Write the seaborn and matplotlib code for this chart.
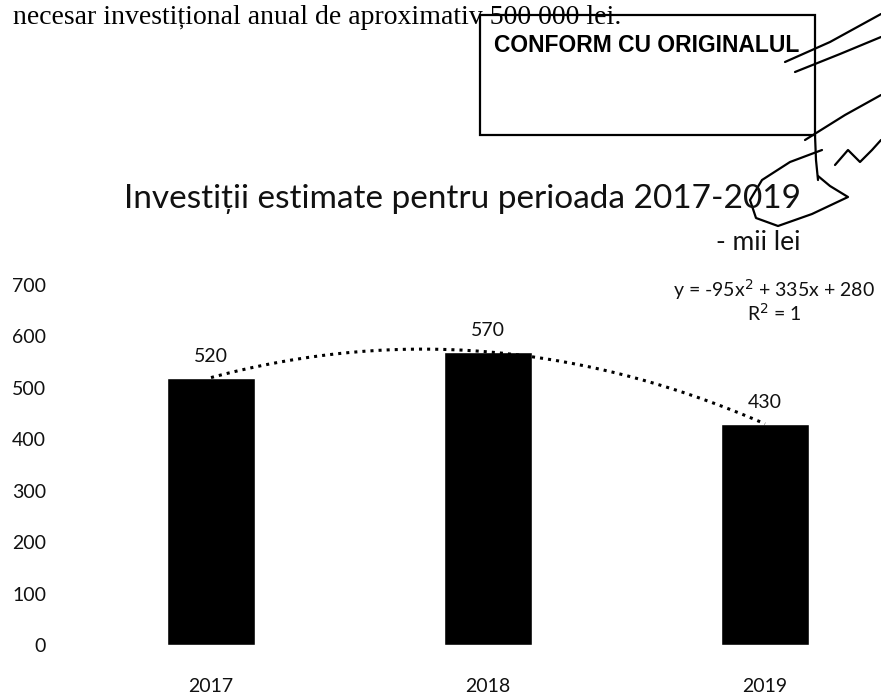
import numpy as np
import pandas as pd
import matplotlib
matplotlib.use('Agg')
import matplotlib.pyplot as plt
import seaborn as sns
from matplotlib.lines import Line2D
from matplotlib.patches import Rectangle

years = ['2017', '2018', '2019']
investitii = [520, 570, 430]
y_ticks = [0, 100, 200, 300, 400, 500, 600, 700]
titlu = 'Investiții estimate pentru perioada 2017-2019'
unitate = '- mii lei'
text_sus = 'necesar investițional anual de aproximativ 500 000 lei.'
stampila = 'CONFORM CU ORIGINALUL'

sns.set_theme(style='white')
plt.rcParams['font.family'] = ['Lato', 'DejaVu Sans']

W, H = 881, 698
fig = plt.figure(figsize=(W / 100, H / 100), dpi=100)
fig.patch.set_facecolor('white')


def fx(px):
    return px / W


def fy(py):
    return 1 - py / H


# axes: y=0 at 645px, y=700 at 285px
ax = fig.add_axes([fx(60), fy(645), fx(881 - 60), (645 - 285) / H])
df = pd.DataFrame({'an': years, 'valoare': investitii})
sns.barplot(data=df, x='an', y='valoare', color='black', width=0.315,
            saturation=1, ax=ax)
ax.set_xlim(-(211 - 60) / 277, 2 + (881 - 765) / 277)
ax.set_ylim(0, 700)
ax.set_yticks(y_ticks)
ax.set_xlabel('')
ax.set_ylabel('')
for s in ax.spines.values():
    s.set_visible(False)
ax.tick_params(axis='y', length=0, pad=10, labelsize=14, labelcolor='#111111')
ax.tick_params(axis='x', length=0, pad=24, labelsize=14, labelcolor='#111111')
ax.bar_label(ax.containers[0], padding=9, fontsize=14, color='#111111')

# polynomial trend line (order 2) through the bars
xi = np.arange(1, len(investitii) + 1)
coef = np.polyfit(xi, investitii, 2)
xs = np.linspace(1, len(investitii), 200)
ax.plot(xs - 1, np.polyval(coef, xs), color='black', linestyle=':',
        linewidth=2.2)

# text around the chart
fig.text(fx(463), fy(208), titlu, ha='center', va='baseline', fontsize=24,
         color='#111111')
fig.text(fx(758), fy(250), unitate, ha='center', va='baseline', fontsize=19,
         color='#111111')
fig.text(fx(774), fy(297), 'y = -95x$^2$ + 335x + 280', ha='center',
         va='baseline', fontsize=14, color='#111111')
fig.text(fx(774), fy(321), 'R$^2$ = 1', ha='center', va='baseline',
         fontsize=14, color='#111111')

# scanned page elements
fig.text(fx(13), fy(24), text_sus, ha='left', va='baseline', fontsize=20,
         family=['Liberation Serif', 'DejaVu Serif'], color='black')
fig.add_artist(Rectangle((fx(480), fy(135)), fx(815 - 480), (135 - 15) / H,
                         transform=fig.transFigure, fill=False,
                         edgecolor='black', linewidth=1.6))
fig.text(fx(647), fy(45), stampila, ha='center', va='center', fontsize=16.5,
         fontweight='bold', family=['Liberation Sans', 'DejaVu Sans'],
         color='black')

# signature strokes
strokes = [
    [(785, 62), (830, 42), (881, 14)],
    [(795, 72), (840, 54), (881, 37)],
    [(805, 140), (845, 115), (881, 95)],
    [(815, 135), (816, 160), (818, 180)],
    [(822, 150), (790, 162), (762, 180), (750, 200), (756, 218),
     (778, 226), (812, 214), (848, 197), (830, 186), (818, 176)],
    [(835, 165), (848, 150), (860, 162), (872, 150), (881, 140)],
]
for st in strokes:
    xs_ = [fx(p[0]) for p in st]
    ys_ = [fy(p[1]) for p in st]
    fig.add_artist(Line2D(xs_, ys_, transform=fig.transFigure, color='black',
                          linewidth=1.6))

fig.savefig('out.png', dpi=100, facecolor='white')
